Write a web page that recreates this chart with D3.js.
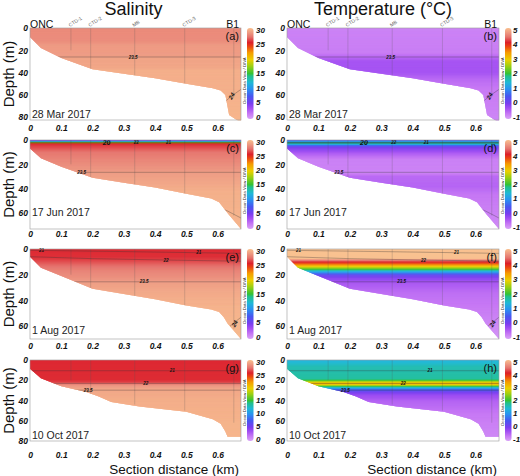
<!DOCTYPE html>
<html>
<head>
<meta charset="utf-8">
<title>Salinity and temperature sections</title>
<script src="https://cdn.jsdelivr.net/npm/d3@7"></script>
<style>
  body { margin: 0; background: #fff; }
  svg { display: block; font-family: "Liberation Sans", Arial, sans-serif; }
  .tick text { font-size: 8.5px; font-weight: bold; font-style: italic; fill: #111; }
  .cb-lab { font-size: 8px; font-weight: bold; font-style: italic; fill: #111; }
  .cont { fill: none; stroke: #333; stroke-width: 0.5; stroke-opacity: 0.65; }
  .cont-lab { font-weight: bold; font-style: italic; fill: #111; }
  .stn { stroke: #555; stroke-width: 0.5; stroke-opacity: 0.45; }
</style>
</head>
<body>
<div id="graph-container"></div>
<script>
// ================= data =================
const dates = ["28 Mar 2017", "17 Jun 2017", "1 Aug 2017", "10 Oct 2017"];
const letters = [["(a)", "(b)"], ["(c)", "(d)"], ["(e)", "(f)"], ["(g)", "(h)"]];
const titles = ["Salinity", "Temperature (\u00B0C)"];

const distMax = 0.675;                    // km
const depthMax = [82.5, 73, 70, 80];      // m, per survey
const xTicks = [0, 0.1, 0.2, 0.3, 0.4, 0.5, 0.6];
const yTicks = [0, 20, 40, 60, 80];
const salTicks = [0, 5, 10, 15, 20, 25, 30];
const tempTicks = [-1, 0, 1, 2, 3, 4, 5];

const stations = ["CTD-1", "CTD-2", "MB", "CTD-3"];
const stationX = [0.131, 0.194, 0.335, 0.495, 0.652];
const stationDepth = [20, 37, 44, 50, 62];

// bottom profile [distance km, depth m]
const bathMar = [[0,8],[0.035,18],[0.1,27],[0.2,37],[0.3,41],[0.4,45],[0.5,50],[0.585,54],[0.61,56],[0.625,60],[0.637,78],[0.675,85]];
const bathJun = [[0,7],[0.035,15],[0.1,22],[0.2,31],[0.3,35],[0.4,39],[0.5,44],[0.58,48],[0.605,51],[0.62,56],[0.635,61],[0.675,73]];
const bathAug = [[0,6],[0.035,14.5],[0.1,21],[0.2,31],[0.3,35],[0.4,39],[0.5,44],[0.58,47],[0.605,49],[0.62,53],[0.632,58],[0.675,70]];
const bathOct = [[0,8.7],[0.035,18],[0.1,26],[0.18,31.5],[0.22,36],[0.26,41.5],[0.35,46],[0.5,51],[0.585,58.5],[0.61,63],[0.625,70.5],[0.632,75.7],[0.675,75.7]];

// salinity profiles [depth m, salinity]
const salMar = [[0,27.8],[12,27.9],[15,28.4],[25,28.5],[27,28.8],[35,28.9],[38,29.25],[60,29.35],[85,29.6]];
const salJun = [[0,4],[0.7,7],[1.2,11],[1.7,15],[2.2,19],[2.7,23],[3.3,25.3],[6,26.0],[10,27.0],[15,27.5],[20,27.9],[27,28.5],[35,28.9],[42,29.3],[73,29.5]];
const salAug = [[0,25.3],[6,25.4],[9,25.9],[13,26.8],[17,27.5],[22,28.0],[27,28.6],[35,29.1],[45,29.4],[70,29.7]];
const salOct = [[0,25.3],[19.6,25.4],[21.8,25.8],[23.4,26.8],[25,28.2],[28.3,28.9],[38,29.2],[54,29.4],[80,29.6]];

// temperature profiles [depth m, deg C]
const tempMar = [[0,-0.72],[22,-0.68],[26,-0.5],[30,-0.3],[40,-0.3],[46,-0.5],[55,-0.65],[85,-0.75]];
const tempJun = [[0,0.3],[1,0.9],[2.2,1.7],[3.3,1.6],[4.5,0.6],[6,0.05],[9,-0.2],[12,-0.45],[16,-0.7],[27,-0.72],[30,-0.5],[38,-0.45],[45,-0.62],[73,-0.78]];
const tempAug = [[0,5.15],[7.5,5.0],[8.5,4.6],[10,4.1],[11.5,3.7],[13,3.2],[14.5,2.6],[16,2.0],[17.5,1.3],[19,0.7],[20.5,0.2],[23,-0.1],[27,-0.35],[35,-0.55],[50,-0.68],[70,-0.85]];
const tempOct = [[0,1.3],[3.3,1.45],[6.5,1.6],[18.5,1.7],[20.1,2.0],[21.8,2.8],[23.4,3.3],[24.8,2.8],[26.1,2.0],[27.8,1.2],[29.4,0.6],[31.6,0.1],[34.8,-0.2],[41,-0.45],[54,-0.65],[80,-0.8]];

// density (sigma-t) contours: polyline points + label spots
const contMar = [
  { label: "23.5", pts: [[0,26],[0.675,26]], labs: [[0.33,26]], size: 4.5, rot: 0 },
  { label: "24", pts: [[0.62,67],[0.645,61],[0.675,55]], labs: [[0.645,61]], size: 6, rot: -60 }
];
const contJun = [
  { label: "20", pts: [[0,1.9],[0.675,1.9]], labs: [[0.245,1.9]], size: 7, rot: 0 },
  { label: "22", pts: [[0,2.6],[0.675,2.6]], labs: [[0.34,1.9]], size: 4.5, rot: 0 },
  { label: "21", pts: [[0,2.2],[0.675,2.2]], labs: [[0.443,1.9]], size: 4.5, rot: 0 },
  { label: "23.5", pts: [[0,26.5],[0.675,26.5]], labs: [[0.165,26.5]], size: 4.5, rot: 0 },
  { label: "", pts: [[0.6,55],[0.63,58],[0.675,64]], labs: [], size: 4.5, rot: 0 }
];
const contAug = [
  { label: "21", pts: [[0,1],[0.3,2],[0.54,2.9],[0.675,3.4]], labs: [[0.037,1.3],[0.54,2.9]], size: 4.5, rot: 0 },
  { label: "22", pts: [[0,6],[0.2,7.5],[0.44,8.6],[0.675,9.5]], labs: [[0.435,8.6]], size: 4.5, rot: 0 },
  { label: "23.5", pts: [[0,25.5],[0.675,25.5]], labs: [[0.365,25.5]], size: 4.5, rot: 0 },
  { label: "24", pts: [[0.62,64],[0.65,58],[0.675,53]], labs: [[0.655,58]], size: 6, rot: -60 }
];
const contOct = [
  { label: "21", pts: [[0,10.6],[0.675,10.6]], labs: [[0.455,10.6]], size: 4.5, rot: 0 },
  { label: "22", pts: [[0,23.1],[0.675,23.1]], labs: [[0.37,23.1]], size: 4.5, rot: 0 },
  { label: "23.5", pts: [[0,29.8],[0.675,29.8]], labs: [[0.186,29.8]], size: 4.5, rot: 0 }
];

// ODV-like palette (normalised position -> colour)
const paletteT = [0, 0.06, 0.12, 0.17, 0.25, 0.33, 0.40, 0.47, 0.5, 0.58, 0.65, 0.73, 0.80, 0.84, 0.90, 0.95, 1];
const paletteC = ["#d9a3f7","#c676f4","#a24ef2","#7a3ef0","#4856f0","#2a92f0","#1fb8d6","#22c08a","#34c234","#9ccf12","#ecd000","#f59a00","#ea4114","#dc1f2a","#e5736c","#ee9a82","#f9bf8d"];

const baths = [bathMar, bathJun, bathAug, bathOct];
const salProfiles = [salMar, salJun, salAug, salOct];
const tempProfiles = [tempMar, tempJun, tempAug, tempOct];
const contours = [contMar, contJun, contAug, contOct];

// ================= layout =================
const W = 520, H = 476;
const colLeft = [30, 287], colRight = [241, 499];
const rowTop = [28, 140, 249, 360], rowBottom = [120, 229, 339, 441];
const cbBottom = [119, 229, 339, 441];
const cbX = [247, 505];
const dateBase = [118, 216, 334, 439];
const xPad = [5, 2, 4, 11];

const cmap = d3.scaleLinear().domain(paletteT).range(paletteC)
  .interpolate(d3.interpolateRgb).clamp(true);
const norms = [d3.scaleLinear().domain([0, 30]).range([0, 1]),
               d3.scaleLinear().domain([-1, 5]).range([0, 1])];
const cbTicks = [salTicks, tempTicks];

const svg = d3.select("#graph-container").append("svg")
  .attr("width", W).attr("height", H);

// gradient for colour bars
const defs = svg.append("defs");
const grad = defs.append("linearGradient").attr("id", "cbgrad")
  .attr("x1", 0).attr("y1", 1).attr("x2", 0).attr("y2", 0);
paletteT.forEach((t, i) => {
  grad.append("stop").attr("offset", t).attr("stop-color", paletteC[i]);
});

const xScales = [0, 1].map(c => d3.scaleLinear().domain([0, distMax]).range([colLeft[c], colRight[c]]));
const fmtX = d => d === 0 ? "0" : d3.format(".1f")(d);

function drawPanel(r, c) {
  const x = xScales[c];
  const y = d3.scaleLinear().domain([0, depthMax[r]]).range([rowTop[r], rowBottom[r]]);
  const prof = c === 0 ? salProfiles[r] : tempProfiles[r];
  const val = d3.scaleLinear().domain(prof.map(d => d[0])).range(prof.map(d => d[1])).clamp(true);
  const norm = norms[c];
  const line = d3.line().x(d => x(d[0])).y(d => y(d[1]));

  const g = svg.append("g");
  const clipId = "clip-" + r + "-" + c;
  const poly = [[0, 0], [distMax, 0]].concat(baths[r].slice().reverse());
  defs.append("clipPath").attr("id", clipId)
    .append("path").attr("d", line(poly) + "Z");

  const field = g.append("g").attr("clip-path", "url(#" + clipId + ")");
  const dz = 0.25;
  field.selectAll("rect").data(d3.range(0, depthMax[r], dz)).join("rect")
    .attr("x", x(0)).attr("width", x(distMax) - x(0))
    .attr("y", d => y(d)).attr("height", d => y(d + dz) - y(d) + 0.4)
    .attr("fill", d => cmap(norm(val(d + dz / 2))));

  // station casts
  field.selectAll(".stn").data(stationX).join("line")
    .attr("class", "stn")
    .attr("x1", d => x(d)).attr("x2", d => x(d))
    .attr("y1", y(0)).attr("y2", (d, i) => y(stationDepth[i]));

  // contours
  contours[r].forEach(ct => {
    field.append("path").attr("class", "cont").attr("d", line(ct.pts));
    ct.labs.forEach(p => {
      g.append("text").attr("class", "cont-lab")
        .attr("transform", "translate(" + x(p[0]) + "," + y(p[1]) + ") rotate(" + ct.rot + ")")
        .attr("text-anchor", "middle").attr("dy", "0.35em")
        .style("font-size", ct.size + "px")
        .text(ct.label);
    });
  });

  // frame
  g.append("rect")
    .attr("x", x(0)).attr("y", y(0))
    .attr("width", x(distMax) - x(0)).attr("height", y(depthMax[r]) - y(0))
    .attr("fill", "none").attr("stroke", "#9a9a9a").attr("stroke-width", 0.6);

  // axes (labels only)
  const yAxis = g.append("g").attr("transform", "translate(" + x(0) + ",0)")
    .call(d3.axisLeft(y).tickValues(yTicks.filter(v => v <= depthMax[r])).tickSize(0).tickPadding(2));
  yAxis.select(".domain").remove();
  const xAxis = g.append("g").attr("transform", "translate(0," + rowBottom[r] + ")")
    .call(d3.axisBottom(x).tickValues(xTicks).tickSize(0).tickPadding(xPad[r]).tickFormat(fmtX));
  xAxis.select(".domain").remove();

  // colour bar
  const cbY = d3.scaleLinear().domain(d3.extent(cbTicks[c])).range([cbBottom[r] - 2, rowTop[r] + 2]);
  g.append("rect").attr("x", cbX[c]).attr("y", rowTop[r])
    .attr("width", 6.5).attr("height", cbBottom[r] - rowTop[r])
    .attr("rx", 3).attr("fill", "url(#cbgrad)");
  g.selectAll(".cb-lab").data(cbTicks[c]).join("text")
    .attr("class", "cb-lab")
    .attr("x", cbX[c] + 9 - (c === 1 ? 1 : 0)).attr("y", d => cbY(d)).attr("dy", "0.35em")
    .text(d => d);
  g.append("text")
    .attr("transform", "translate(" + (cbX[c] - 1.5) + "," + (cbBottom[r] - 15) + ") rotate(-90)")
    .style("font-size", "4.3px").attr("fill", "#333")
    .text("Ocean Data View / DIVA");

  // texts
  g.append("text").attr("x", x(distMax) - 2).attr("y", rowTop[r] + 12)
    .attr("text-anchor", "end").style("font-size", "11px").attr("fill", "#111")
    .text(letters[r][c]);
  g.append("text").attr("x", x(0) + 2).attr("y", dateBase[r])
    .style("font-size", "10.5px").attr("fill", "#222")
    .text(dates[r]);

  if (r === 0) {
    g.append("text").attr("x", x(0)).attr("y", rowTop[r] - 0.5)
      .style("font-size", "10.5px").attr("fill", "#111").text("ONC");
    g.append("text").attr("x", x(distMax) - 2).attr("y", rowTop[r] - 0.5)
      .attr("text-anchor", "end").style("font-size", "10.5px").attr("fill", "#111").text("B1");
    stations.forEach((s, i) => {
      g.append("text")
        .attr("transform", "translate(" + (x(stationX[i]) - 1) + "," + (rowTop[r] - 1) + ") rotate(-32)")
        .style("font-size", "5px").attr("fill", "#666").text(s);
    });
    g.append("text").attr("x", (x(0) + x(distMax)) / 2 + (c === 0 ? -2 : -10)).attr("y", 15)
      .attr("text-anchor", "middle").style("font-size", "18px").attr("fill", "#111")
      .text(titles[c]);
  }
  if (c === 0) {
    g.append("text")
      .attr("transform", "translate(14," + (rowTop[r] + rowBottom[r]) / 2 + ") rotate(-90)")
      .attr("text-anchor", "middle").style("font-size", "15px").attr("fill", "#111")
      .text("Depth (m)");
  }
  if (r === 3) {
    g.append("text").attr("x", x(distMax) - 2).attr("y", 474)
      .attr("text-anchor", "end").style("font-size", "13.5px").attr("fill", "#111")
      .text("Section distance (km)");
  }
}

for (let r = 0; r < 4; r++) {
  for (let c = 0; c < 2; c++) drawPanel(r, c);
}
</script>
</body>
</html>
